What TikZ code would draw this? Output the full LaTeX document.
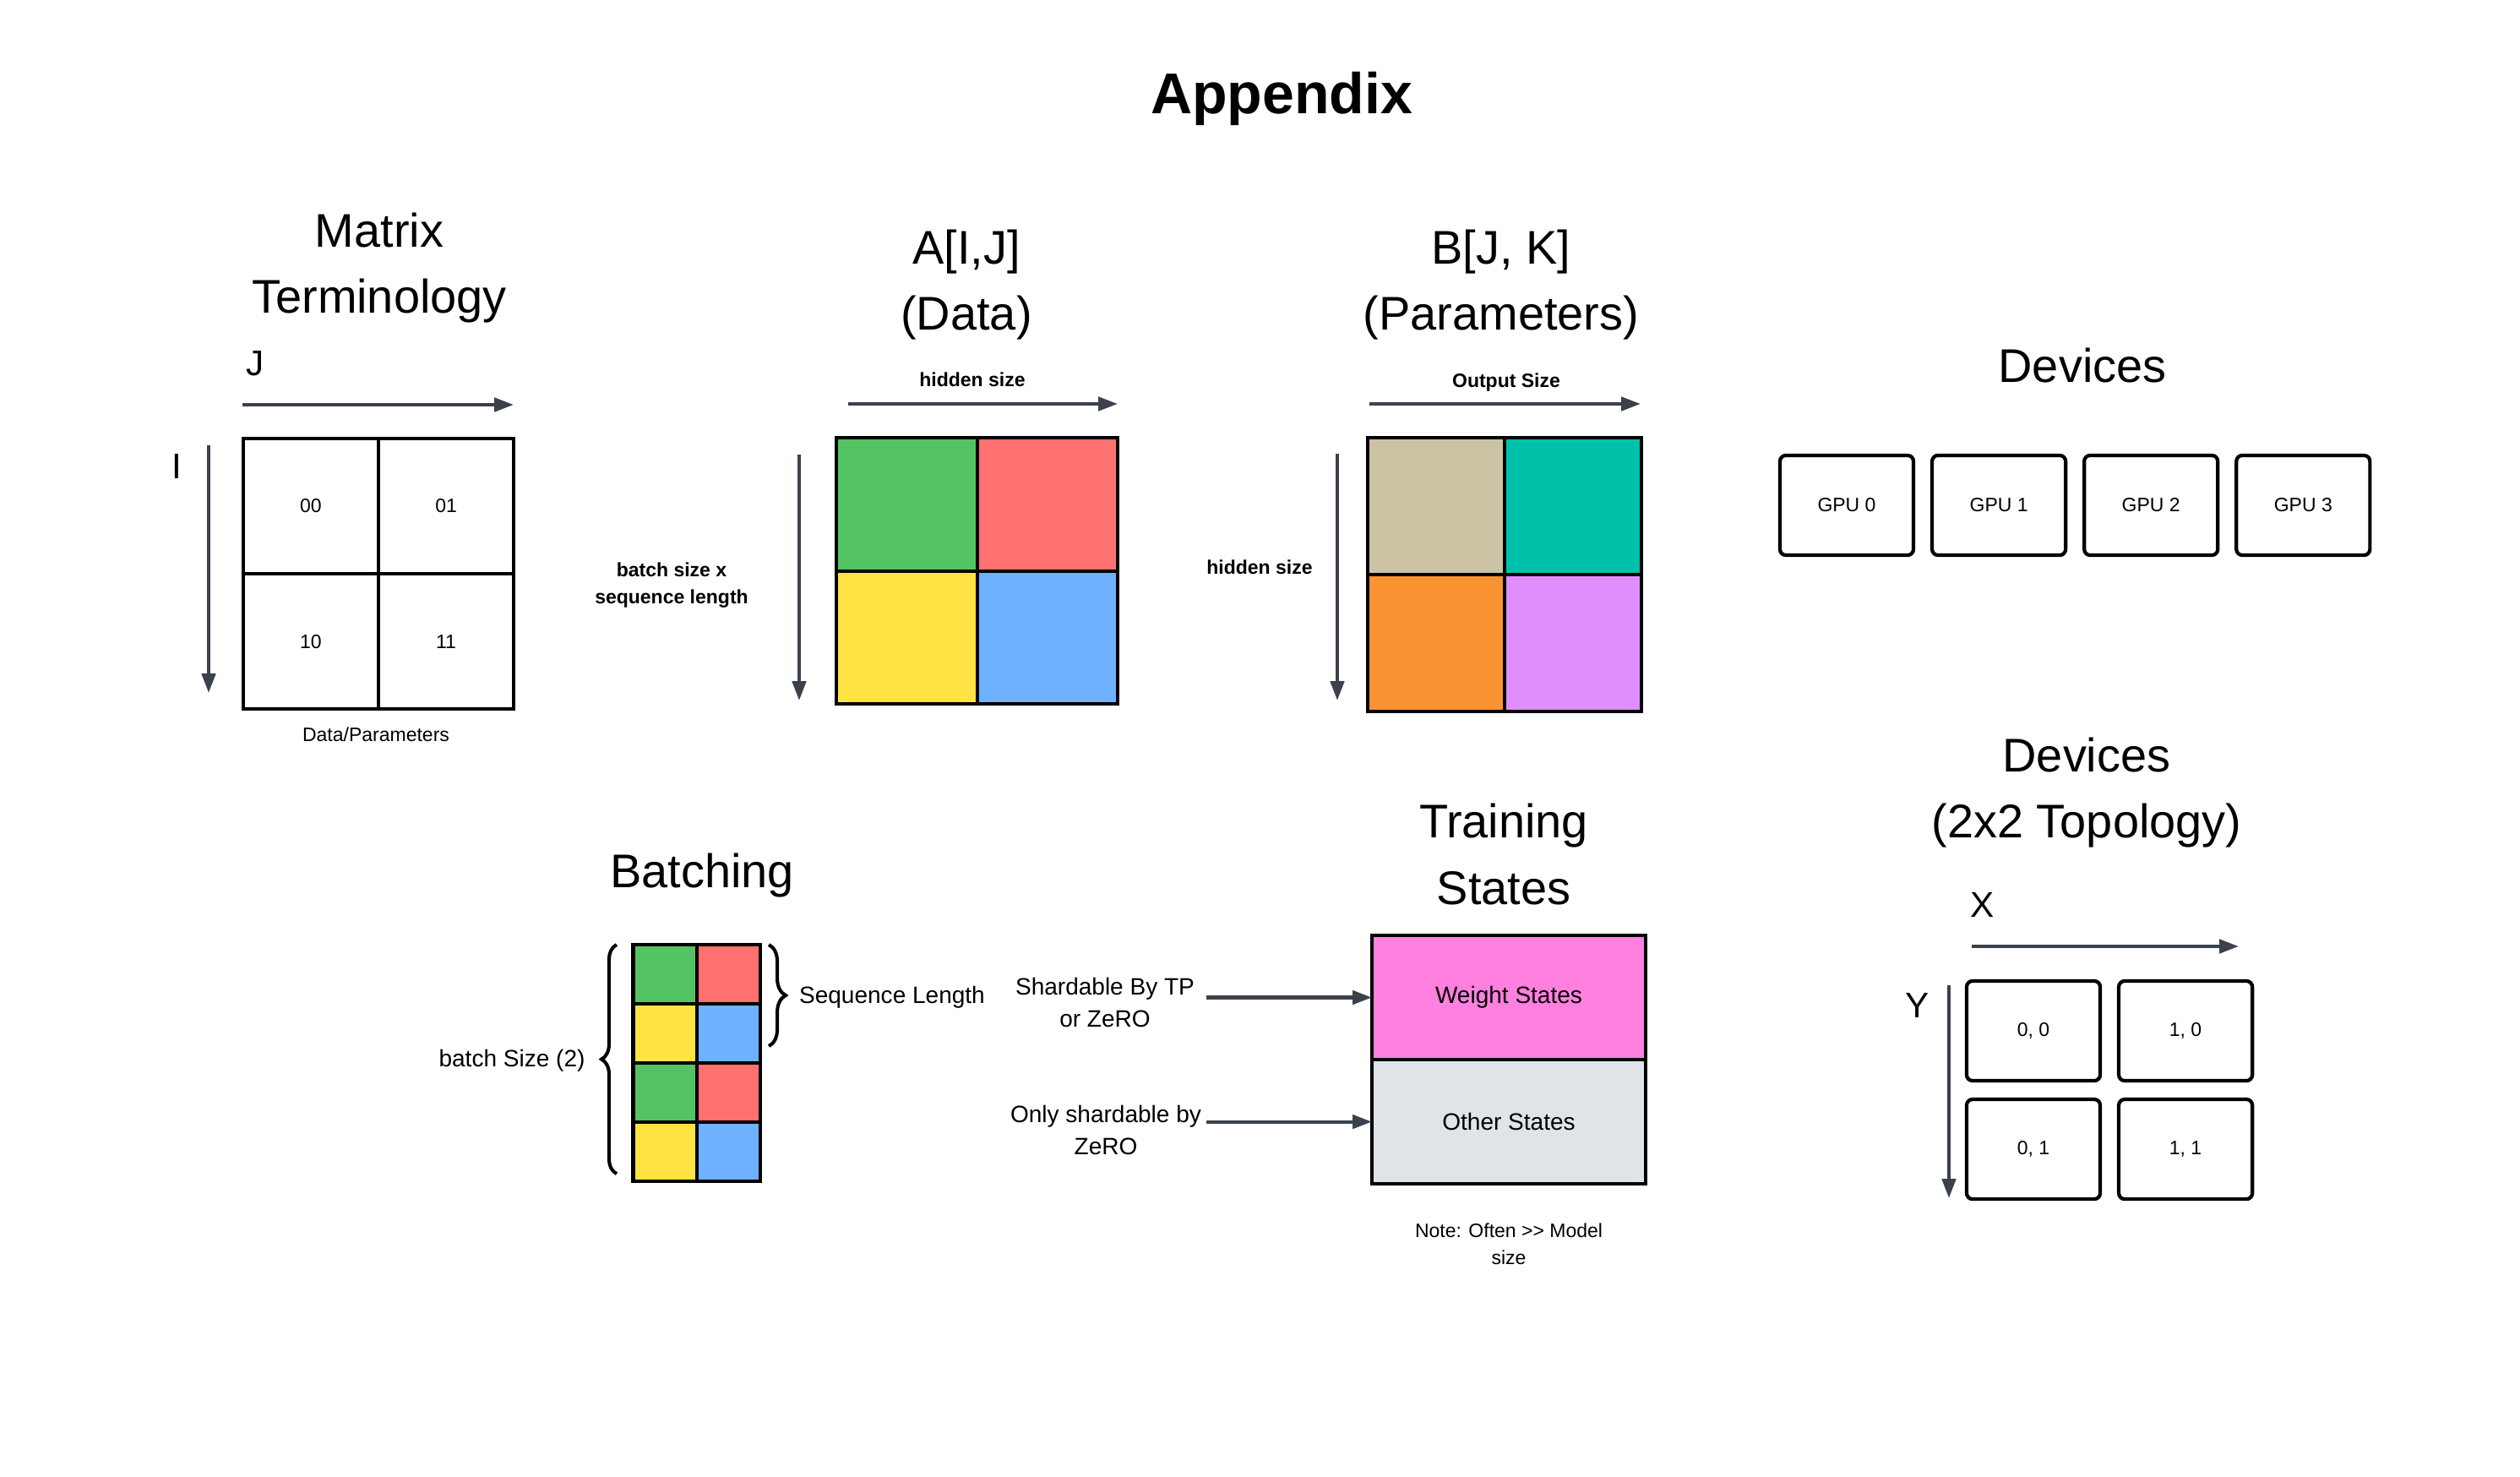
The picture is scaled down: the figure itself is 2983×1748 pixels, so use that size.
\documentclass[tikz,border=0pt]{standalone}
\usepackage{xcolor}
\usepackage{fontspec}
\setmainfont{Liberation Sans}
\usepackage{tikz}
\usetikzlibrary{positioning, arrows.meta, decorations.pathreplacing}

\definecolor{axisgray}{HTML}{3C424C}
\definecolor{cgreen}{HTML}{54C462}
\definecolor{cred}{HTML}{FF7070}
\definecolor{cyellow}{HTML}{FFE342}
\definecolor{cblue}{HTML}{6DB1FF}
\definecolor{ctan}{HTML}{CBC3A3}
\definecolor{cteal}{HTML}{00C2AA}
\definecolor{corange}{HTML}{FA9433}
\definecolor{cviolet}{HTML}{E08EFC}
\definecolor{cpink}{HTML}{FF80DF}
\definecolor{cgray}{HTML}{E0E3E7}

\newcommand{\titlesize}{\fontsize{19.35}{23}\selectfont\bfseries}
\newcommand{\headsize}{\fontsize{15.9}{22.2}\selectfont}
\newcommand{\axsize}{\fontsize{12}{14}\selectfont}
\newcommand{\midsize}{\fontsize{7.97}{10.8}\selectfont}
\newcommand{\smallsize}{\fontsize{6.54}{9.1}\selectfont}

\begin{document}
\begin{tikzpicture}[x=0.01cm, y=-0.01cm,
    txt/.style={inner sep=0pt, align=center},
    head/.style={txt, font=\headsize},
    axlabel/.style={txt, font=\axsize},
    midlabel/.style={txt, font=\midsize},
    smalllabel/.style={txt, font=\smallsize},
    boldlabel/.style={txt, font=\smallsize\bfseries},
    cell/.style={draw=black, line width=1.15pt, inner sep=0pt, outer sep=0pt, font=\smallsize},
    devbox/.style={draw=black, line width=1.2pt, rounded corners=0.07cm, minimum width=1.58cm,
        minimum height=1.18cm, inner sep=0pt, outer sep=0pt, font=\smallsize},
    axis/.style={draw=axisgray, line width=1.15pt, -{Triangle[length=6.5pt, width=4.6pt]}},
    curly/.style={draw=black, line width=1.15pt, decorate, decoration={brace, amplitude=#1}},
    statebox/.style={draw=black, line width=1.2pt, minimum width=3.24cm, minimum height=1.47cm,
        inner sep=0pt, outer sep=0pt, font=\midsize}
]
\path[use as bounding box, fill=white] (0,0) rectangle (2983,1748);

\node[txt, font=\titlesize] (title) at (1517,117) {Appendix};

% matrix terminology
\node[head] (mtitle) at (449,317) {Matrix\\Terminology};
\node[axlabel] (jlabel) at (302,430) {J};
\node[axlabel] (ilabel) at (209,552) {I};
\coordinate (jfrom) at (287,479);
\coordinate (jto) at (608,479);
\coordinate (ifrom) at (247,527);
\coordinate (ito) at (247,820);
\draw[axis] (jfrom) -- (jto);
\draw[axis] (ifrom) -- (ito);
\node[cell, minimum width=1.6cm, minimum height=1.6cm] (m00) at (368,599) {00};
\node[cell, minimum width=1.6cm, minimum height=1.6cm, right=0pt of m00] (m01) {01};
\node[cell, minimum width=1.6cm, minimum height=1.6cm, below=0pt of m00] (m10) {10};
\node[cell, minimum width=1.6cm, minimum height=1.6cm, right=0pt of m10] (m11) {11};
\node[smalllabel] (mcaption) at (445,869) {Data/Parameters};

% A[I,J]
\node[head] (atitle) at (1144,337) {A[I,J]\\(Data)};
\node[boldlabel] (ahidden) at (1151,449) {hidden size};
\node[boldlabel] (abatch) at (795,693) {batch size x\\sequence length};
\coordinate (ahfrom) at (1004,478);
\coordinate (ahto) at (1323,478);
\coordinate (avfrom) at (946,538);
\coordinate (avto) at (946,829);
\draw[axis] (ahfrom) -- (ahto);
\draw[axis] (avfrom) -- (avto);
\node[cell, fill=cgreen, minimum width=1.665cm, minimum height=1.575cm] (a00) at (1073.25,596.75) {};
\node[cell, fill=cred, minimum width=1.665cm, minimum height=1.575cm, right=0pt of a00] (a01) {};
\node[cell, fill=cyellow, minimum width=1.665cm, minimum height=1.575cm, below=0pt of a00] (a10) {};
\node[cell, fill=cblue, minimum width=1.665cm, minimum height=1.575cm, right=0pt of a10] (a11) {};

% B[J,K]
\node[head] (btitle) at (1777,337) {B[J, K]\\(Parameters)};
\node[boldlabel] (boutput) at (1783,453) {Output Size};
\node[boldlabel] (bhidden) at (1491,671) {hidden size};
\coordinate (bhfrom) at (1621,478);
\coordinate (bhto) at (1942,478);
\coordinate (bvfrom) at (1583,537);
\coordinate (bvto) at (1583,829);
\draw[axis] (bhfrom) -- (bhto);
\draw[axis] (bvfrom) -- (bvto);
\node[cell, fill=ctan, minimum width=1.62cm, minimum height=1.62cm] (b00) at (1700,599) {};
\node[cell, fill=cteal, minimum width=1.62cm, minimum height=1.62cm, right=0pt of b00] (b01) {};
\node[cell, fill=corange, minimum width=1.62cm, minimum height=1.62cm, below=0pt of b00] (b10) {};
\node[cell, fill=cviolet, minimum width=1.62cm, minimum height=1.62cm, right=0pt of b10] (b11) {};

% devices
\node[head] (devtitle) at (2465,433) {Devices};
\node[devbox] (gpu0) at (2186,598) {GPU 0};
\node[devbox, right=0.22cm of gpu0] (gpu1) {GPU 1};
\node[devbox, right=0.22cm of gpu1] (gpu2) {GPU 2};
\node[devbox, right=0.22cm of gpu2] (gpu3) {GPU 3};

% batching
\node[head] (batchtitle) at (831,1036) {Batching};
\node[cell, fill=cgreen, minimum width=0.75cm, minimum height=0.7cm] (s00) at (787,1153) {};
\node[cell, fill=cred, minimum width=0.75cm, minimum height=0.7cm, right=0pt of s00] (s01) {};
\node[cell, fill=cyellow, minimum width=0.75cm, minimum height=0.7cm, below=0pt of s00] (s10) {};
\node[cell, fill=cblue, minimum width=0.75cm, minimum height=0.7cm, right=0pt of s10] (s11) {};
\node[cell, fill=cgreen, minimum width=0.75cm, minimum height=0.7cm, below=0pt of s10] (s20) {};
\node[cell, fill=cred, minimum width=0.75cm, minimum height=0.7cm, right=0pt of s20] (s21) {};
\node[cell, fill=cyellow, minimum width=0.75cm, minimum height=0.7cm, below=0pt of s20] (s30) {};
\node[cell, fill=cblue, minimum width=0.75cm, minimum height=0.7cm, right=0pt of s30] (s31) {};
\coordinate (lbtop) at ([xshift=-0.195cm]s00.north west);
\coordinate (lbbot) at ([xshift=-0.195cm, yshift=0.09cm]s30.south west);
\coordinate (rbtop) at ([xshift=0.105cm]s01.north east);
\coordinate (rbbot) at ([xshift=0.105cm, yshift=0.2cm]s11.south east);
\draw[curly=0.18cm] (lbbot) -- (lbtop);
\draw[curly=0.2cm] (rbtop) -- (rbbot);
\node[midlabel] (bsize) at (606,1255) {batch Size (2)};
\node[midlabel] (seqlen) at (1056,1180) {Sequence Length};

% training states
\node[head] (traintitle) at (1780,1011) {Training\\States};
\node[statebox, fill=cpink] (weight) at (1786,1180.5) {Weight States};
\node[statebox, fill=cgray, below=0pt of weight] (other) {Other States};
\node[midlabel, inner xsep=0.13cm] (shard) at (1308,1186) {Shardable By TP\\or ZeRO};
\node[midlabel, inner xsep=0.05cm] (zeroonly) at (1309,1337) {Only shardable by\\ZeRO};
\draw[axis] (shard.east |- weight.west) -- (weight.west);
\draw[axis] (zeroonly.east |- other.west) -- (other.west);
\node[smalllabel] (note) at (1786,1472) {Note: Often >{}> Model\\size};

% devices 2x2
\node[head] (topotitle) at (2470,938) {Devices\\(2x2 Topology)};
\node[axlabel] (xlabel) at (2347,1071) {X};
\node[axlabel] (ylabel) at (2270,1190) {Y};
\coordinate (xfrom) at (2334,1120);
\coordinate (xto) at (2650,1120);
\coordinate (yfrom) at (2307,1166);
\coordinate (yto) at (2307,1418);
\draw[axis] (xfrom) -- (xto);
\draw[axis] (yfrom) -- (yto);
\node[devbox] (d00) at (2407,1220) {0, 0};
\node[devbox, right=0.22cm of d00] (d10) {1, 0};
\node[devbox, below=0.22cm of d00] (d01) {0, 1};
\node[devbox, right=0.22cm of d01] (d11) {1, 1};

\end{tikzpicture}
\end{document}
